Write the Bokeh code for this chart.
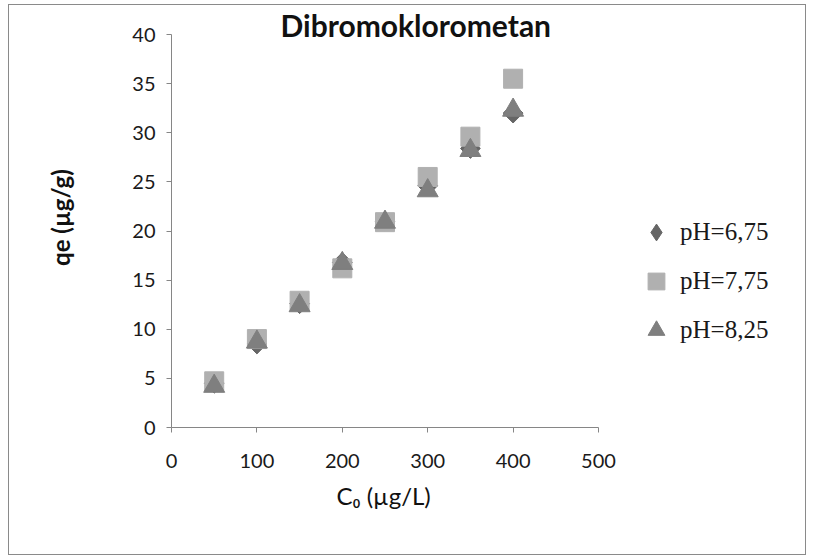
import math
from bokeh.plotting import figure
from bokeh.models import Range1d, Legend, LegendItem, FixedTicker, Label, Title
from bokeh.embed import file_html
from bokeh.resources import INLINE

# Data
c0 = [50, 100, 150, 200, 250, 300, 350, 400]
qe_ph675 = [4.5, 8.5, 12.6, 16.8, 21.0, 24.6, 28.4, 32.0]
qe_ph775 = [4.7, 9.0, 12.9, 16.2, 20.9, 25.5, 29.6, 35.5]
qe_ph825 = [4.2, 8.7, 12.4, 16.7, 20.9, 24.1, 28.2, 32.3]
series_names = ["pH=6,75", "pH=7,75", "pH=8,25"]
x_ticks = [0, 100, 200, 300, 400, 500]
y_ticks = [0, 5, 10, 15, 20, 25, 30, 35, 40]
x_max, y_max = 500, 40
title_text = "Dibromoklorometan"
x_label = "C\u2080 (\u00b5g/L)"
y_label = "qe (\u00b5g/g)"

# layout (canvas pixels)
W, H = 798, 551
left, bottom = 162, 129
axis_w, axis_h = 427, 393          # pixel length of the drawn axes
frame_w, frame_h = 628, 420        # frame extends beyond axes to hold title & legend
x_end = x_max * frame_w / axis_w
y_end = y_max * frame_h / axis_h

p = figure(width=W, height=H, output_backend="svg", toolbar_location=None,
           x_range=Range1d(0, x_end), y_range=Range1d(0, y_end),
           min_border_left=left, min_border_right=W - left - frame_w,
           min_border_top=H - bottom - frame_h, min_border_bottom=bottom)
p.styles = {"margin-left": "8px", "margin-top": "4px", "border": "1px solid #8a8a8a"}
p.outline_line_color = None
p.xgrid.visible = False
p.ygrid.visible = False
p.background_fill_color = "white"
p.border_fill_color = "white"

axis_col = "#868686"
for ax in (p.xaxis[0], p.yaxis[0]):
    ax.axis_line_color = axis_col
    ax.major_tick_line_color = axis_col
    ax.minor_tick_line_color = None
    ax.major_tick_out = 5
    ax.major_tick_in = 0
    ax.major_label_text_font = "Lato"
    ax.major_label_text_font_size = "20px"
    ax.major_label_text_color = "#1a1a1a"
    ax.axis_label_text_font = "Lato"
    ax.axis_label_text_color = "#111111"

p.xaxis.bounds = (0, x_max)
p.yaxis.bounds = (0, y_max)
p.xaxis.ticker = FixedTicker(ticks=x_ticks)
p.yaxis.ticker = FixedTicker(ticks=y_ticks)
p.xaxis.major_label_standoff = 21
p.yaxis.major_label_standoff = 11
p.yaxis.axis_label = y_label
p.yaxis.axis_label_standoff = 54
p.yaxis.axis_label_text_font_size = "24px"
p.yaxis.axis_label_text_font_style = "bold"

# x-axis label centred under the drawn axis (frame is wider than the axis)
p.add_layout(Title(text=x_label, align="left", offset=165, standoff=16,
                   text_font="Lato", text_font_size="24px", text_font_style="normal",
                   text_color="#111111"), "below")

dia_col, sq_col, tri_col = "#666666", "#b0b0b0", "#7f7f7f"
# diamond series: the unrotated "diamond" glyph is used by the legend,
# the 45-degree square drawn over it gives the wider plot marker
r1_leg = p.scatter(c0, qe_ph675, marker="diamond", size=18, fill_color=dia_col, line_color=dia_col)
r1 = p.scatter(c0, qe_ph675, marker="square", angle=math.pi / 4, size=14,
               fill_color=dia_col, line_color=dia_col)
r2 = p.scatter(c0, qe_ph775, marker="square", size=19, fill_color=sq_col, line_color=sq_col)
r3 = p.scatter(c0, qe_ph825, marker="triangle", size=21, fill_color=tri_col, line_color=tri_col)

legend = Legend(items=[LegendItem(label=series_names[0], renderers=[r1_leg]),
                       LegendItem(label=series_names[1], renderers=[r2]),
                       LegendItem(label=series_names[2], renderers=[r3])],
                location=(464, 76), orientation="vertical",
                glyph_width=42, glyph_height=42, spacing=7, padding=0, margin=0,
                label_standoff=3, border_line_color=None, background_fill_alpha=0,
                label_text_font="Liberation Serif", label_text_font_size="25px",
                label_text_color="#1a1a1a")
p.add_layout(legend)

p.add_layout(Label(x=286, y=41.0, text=title_text, text_font="Lato", text_font_size="30px",
                   text_font_style="bold", text_align="center", text_baseline="alphabetic",
                   text_color="#111111"))

open("out.html", "w").write(file_html(p, INLINE))
